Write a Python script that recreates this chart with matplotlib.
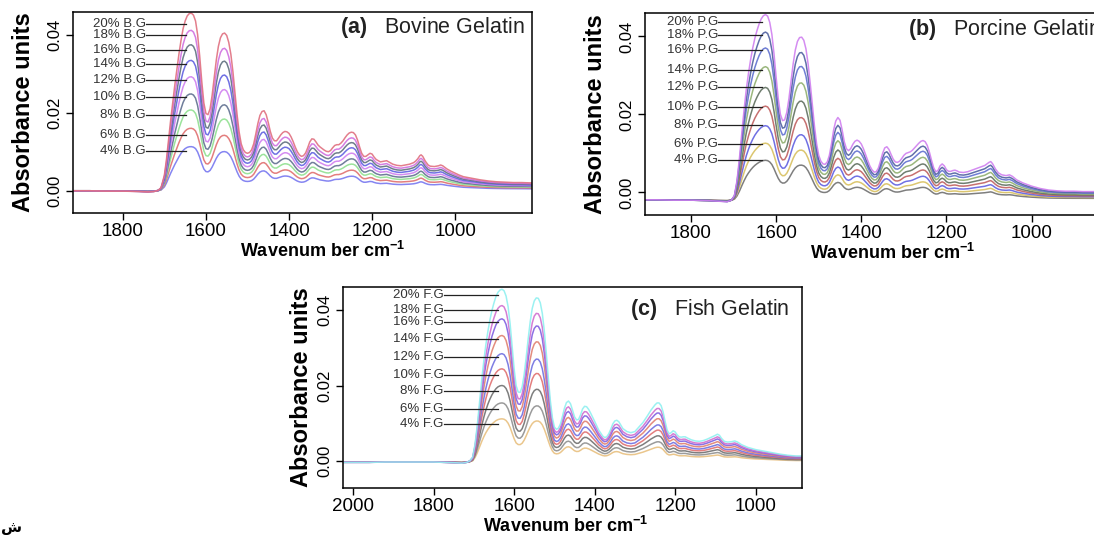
import numpy as np
import matplotlib
matplotlib.use('Agg')
import matplotlib.pyplot as plt

plt.rcParams['font.family'] = ['Liberation Sans', 'DejaVu Sans']
plt.rcParams['mathtext.fontset'] = 'custom'
plt.rcParams['mathtext.rm'] = 'Liberation Sans'
plt.rcParams['mathtext.bf'] = 'Liberation Sans:bold'

conc = ['4%', '6%', '8%', '10%', '12%', '14%', '16%', '18%', '20%']

# ---- (a) bovine gelatin: top (20%) spectrum
bg_wn = [1920, 1880, 1840, 1800, 1760, 1740, 1725, 1715, 1708, 1700, 1695, 1690, 1685, 1680,
         1675, 1670, 1665, 1660, 1655, 1650, 1645, 1640, 1635, 1630, 1625, 1620, 1615, 1610,
         1605, 1600, 1595, 1590, 1585, 1580, 1575, 1570, 1565, 1560, 1555, 1550, 1545, 1540,
         1535, 1530, 1525, 1520, 1515, 1510, 1505, 1500, 1495, 1490, 1485, 1480, 1475, 1470,
         1465, 1460, 1455, 1450, 1445, 1440, 1435, 1430, 1425, 1420, 1415, 1410, 1405, 1400,
         1395, 1390, 1385, 1380, 1375, 1370, 1365, 1360, 1355, 1350, 1345, 1340, 1335, 1330,
         1325, 1320, 1315, 1310, 1305, 1300, 1295, 1290, 1285, 1280, 1275, 1270, 1265, 1260,
         1255, 1250, 1245, 1240, 1235, 1230, 1225, 1220, 1215, 1210, 1205, 1200, 1195, 1190,
         1180, 1170, 1165, 1160, 1150, 1140, 1130, 1120, 1110, 1100, 1095, 1090, 1085, 1082,
         1078, 1072, 1065, 1060, 1050, 1040, 1035, 1030, 1020, 1010, 1000, 990, 980, 960,
         940, 920, 900, 880, 860, 840, 815]
bg_top = [0.0000, 0.0000, -0.0001, -0.0001, -0.0002, -0.0003, -0.0002, 0.0001, 0.0008, 0.0040,
          0.0080, 0.0130, 0.0180, 0.0225, 0.0270, 0.0310, 0.0350, 0.0385, 0.0415, 0.0435,
          0.0448, 0.0454, 0.0455, 0.0450, 0.0435, 0.0400, 0.0345, 0.0280, 0.0225, 0.0198,
          0.0195, 0.0210, 0.0245, 0.0290, 0.0335, 0.0370, 0.0392, 0.0402, 0.0404, 0.0398,
          0.0380, 0.0350, 0.0305, 0.0250, 0.0195, 0.0150, 0.0120, 0.0105, 0.0098, 0.0096,
          0.0098, 0.0105, 0.0120, 0.0145, 0.0172, 0.0193, 0.0203, 0.0205, 0.0195, 0.0175,
          0.0152, 0.0135, 0.0128, 0.0128, 0.0135, 0.0143, 0.0149, 0.0152, 0.0151, 0.0147,
          0.0138, 0.0126, 0.0112, 0.0100, 0.0092, 0.0088, 0.0090, 0.0097, 0.0110, 0.0125,
          0.0133, 0.0132, 0.0125, 0.0117, 0.0112, 0.0108, 0.0104, 0.0101, 0.0100, 0.0103,
          0.0110, 0.0116, 0.0118, 0.0118, 0.0122, 0.0128, 0.0136, 0.0143, 0.0148, 0.0150,
          0.0149, 0.0143, 0.0130, 0.0112, 0.0096, 0.0088, 0.0088, 0.0092, 0.0096, 0.0094,
          0.0086, 0.0080, 0.0074, 0.0076, 0.0077, 0.0074, 0.0068, 0.0065, 0.0064, 0.0066,
          0.0068, 0.0072, 0.0076, 0.0082, 0.0090, 0.0092, 0.0088, 0.0076, 0.0066, 0.0063,
          0.0062, 0.0064, 0.0066, 0.0064, 0.0056, 0.0050, 0.0045, 0.0040, 0.0036, 0.0032,
          0.0028, 0.0025, 0.0023, 0.0022, 0.0021, 0.0021, 0.0020]
bg_base = 0.0
bg_peak = [0.0113, 0.0160, 0.0207, 0.0248, 0.0292, 0.0334, 0.0374, 0.0411, 0.0455]
bg_label_y = [0.0102, 0.0143, 0.0194, 0.0241, 0.0283, 0.0326, 0.0360, 0.0398, 0.0428]
bg_colors = ['#7878f0', '#e07070', '#90e090', '#607090', '#d080f0', '#6060e0', '#607080',
             '#d070e0', '#e07080']

# ---- (b) porcine gelatin
pg_wn = [1908, 1880, 1840, 1800, 1760, 1730, 1715, 1705, 1698, 1692, 1686, 1680, 1675, 1670,
         1665, 1660, 1655, 1650, 1645, 1640, 1635, 1630, 1625, 1620, 1615, 1610, 1605, 1600,
         1595, 1590, 1585, 1580, 1575, 1570, 1565, 1560, 1555, 1550, 1545, 1540, 1535, 1530,
         1525, 1520, 1515, 1510, 1505, 1500, 1495, 1490, 1485, 1480, 1475, 1470, 1465, 1460,
         1455, 1450, 1445, 1440, 1435, 1430, 1425, 1420, 1415, 1410, 1405, 1400, 1395, 1390,
         1385, 1380, 1375, 1370, 1365, 1360, 1355, 1350, 1345, 1340, 1335, 1330, 1325, 1320,
         1315, 1310, 1305, 1300, 1295, 1290, 1285, 1280, 1275, 1270, 1265, 1260, 1255, 1250,
         1245, 1240, 1235, 1230, 1225, 1220, 1215, 1210, 1205, 1200, 1195, 1190, 1185, 1180,
         1175, 1170, 1160, 1150, 1140, 1130, 1120, 1110, 1105, 1100, 1096, 1092, 1085, 1078,
         1070, 1060, 1052, 1045, 1035, 1020, 1000, 980, 960, 940, 920, 900, 880, 860, 840, 825]
pg_top = [-0.0019, -0.0019, -0.0020, -0.0020, -0.0021, -0.0023, -0.0024, -0.0020, -0.0008,
          0.0030, 0.0090, 0.0160, 0.0215, 0.0265, 0.0305, 0.0340, 0.0370, 0.0395, 0.0415,
          0.0432, 0.0445, 0.0453, 0.0456, 0.0452, 0.0436, 0.0405, 0.0355, 0.0295, 0.0240,
          0.0200, 0.0184, 0.0186, 0.0205, 0.0240, 0.0285, 0.0330, 0.0365, 0.0387, 0.0397,
          0.0398, 0.0390, 0.0368, 0.0330, 0.0280, 0.0225, 0.0170, 0.0125, 0.0095, 0.0080,
          0.0073, 0.0072, 0.0078, 0.0095, 0.0125, 0.0160, 0.0183, 0.0192, 0.0185, 0.0160,
          0.0130, 0.0112, 0.0107, 0.0112, 0.0123, 0.0131, 0.0134, 0.0131, 0.0124, 0.0112,
          0.0097, 0.0082, 0.0068, 0.0058, 0.0052, 0.0053, 0.0062, 0.0080, 0.0100, 0.0114,
          0.0117, 0.0110, 0.0097, 0.0085, 0.0078, 0.0077, 0.0080, 0.0087, 0.0095, 0.0100,
          0.0102, 0.0104, 0.0108, 0.0114, 0.0120, 0.0126, 0.0131, 0.0133, 0.0130, 0.0120,
          0.0103, 0.0082, 0.0063, 0.0053, 0.0056, 0.0068, 0.0073, 0.0068, 0.0058, 0.0054,
          0.0054, 0.0056, 0.0057, 0.0055, 0.0052, 0.0051, 0.0053, 0.0057, 0.0061, 0.0065,
          0.0069, 0.0073, 0.0077, 0.0079, 0.0074, 0.0060, 0.0050, 0.0045, 0.0043, 0.0045,
          0.0041, 0.0032, 0.0024, 0.0016, 0.0010, 0.0006, 0.0004, 0.0003, 0.0003, 0.0002,
          0.0002, 0.0002, 0.0002]
pg_base = -0.0020
pg_peak = [0.0098, 0.0140, 0.0183, 0.0231, 0.0277, 0.0328, 0.0374, 0.0413, 0.0456]
pg_label_y = [0.0083, 0.0123, 0.0174, 0.0219, 0.0271, 0.0315, 0.0366, 0.0404, 0.0438]
pg_colors = ['#707070', '#d8c060', '#6060e0', '#c06060', '#607060', '#90b070', '#6070d0',
             '#5060a0', '#d080f0']

# ---- (c) fish gelatin
fg_wn = [2025, 2000, 1960, 1920, 1880, 1840, 1800, 1770, 1745, 1730, 1718, 1710, 1703, 1697,
         1691, 1685, 1680, 1675, 1670, 1665, 1660, 1655, 1650, 1645, 1640, 1635, 1630, 1625,
         1620, 1615, 1610, 1605, 1600, 1595, 1590, 1585, 1580, 1575, 1570, 1565, 1560, 1555,
         1550, 1545, 1540, 1535, 1530, 1525, 1520, 1515, 1510, 1505, 1500, 1495, 1490, 1485,
         1480, 1475, 1470, 1465, 1460, 1455, 1450, 1445, 1440, 1435, 1430, 1425, 1420, 1415,
         1410, 1400, 1390, 1380, 1375, 1370, 1365, 1360, 1355, 1350, 1345, 1340, 1335, 1330,
         1320, 1310, 1300, 1290, 1280, 1270, 1260, 1250, 1245, 1240, 1235, 1230, 1225, 1220,
         1215, 1210, 1205, 1200, 1195, 1190, 1185, 1180, 1175, 1170, 1160, 1150, 1140, 1130,
         1120, 1110, 1100, 1095, 1090, 1085, 1078, 1070, 1060, 1052, 1045, 1035, 1020, 1000,
         980, 960, 940, 920, 900, 885]
fg_top = [-0.0004, -0.0004, -0.0004, -0.0003, -0.0003, -0.0003, -0.0003, -0.0004, -0.0005,
          -0.0006, -0.0004, 0.0000, 0.0010, 0.0045, 0.0100, 0.0165, 0.0220, 0.0268, 0.0310,
          0.0345, 0.0375, 0.0400, 0.0420, 0.0437, 0.0448, 0.0454, 0.0456, 0.0452, 0.0438,
          0.0410, 0.0365, 0.0305, 0.0245, 0.0200, 0.0183, 0.0182, 0.0197, 0.0230, 0.0275,
          0.0325, 0.0370, 0.0405, 0.0425, 0.0433, 0.0432, 0.0420, 0.0392, 0.0345, 0.0285,
          0.0220, 0.0160, 0.0115, 0.0090, 0.0084, 0.0087, 0.0098, 0.0118, 0.0140, 0.0155,
          0.0159, 0.0152, 0.0135, 0.0117, 0.0109, 0.0110, 0.0122, 0.0138, 0.0145, 0.0144,
          0.0137, 0.0127, 0.0105, 0.0082, 0.0066, 0.0062, 0.0064, 0.0072, 0.0084, 0.0098,
          0.0106, 0.0108, 0.0104, 0.0095, 0.0086, 0.0078, 0.0075, 0.0078, 0.0090, 0.0102,
          0.0118, 0.0135, 0.0149, 0.0154, 0.0154, 0.0147, 0.0130, 0.0105, 0.0082, 0.0072,
          0.0075, 0.0080, 0.0077, 0.0069, 0.0064, 0.0063, 0.0064, 0.0064, 0.0061, 0.0056,
          0.0053, 0.0052, 0.0054, 0.0058, 0.0063, 0.0068, 0.0071, 0.0068, 0.0060, 0.0052,
          0.0050, 0.0051, 0.0053, 0.0050, 0.0043, 0.0036, 0.0030, 0.0026, 0.0022, 0.0018,
          0.0015, 0.0013, 0.0013]
fg_base = -0.0003
fg_peak = [0.0114, 0.0156, 0.0202, 0.0246, 0.0286, 0.0334, 0.0378, 0.0413, 0.0456]
fg_label_y = [0.0097, 0.0139, 0.0185, 0.0229, 0.0277, 0.0324, 0.0369, 0.0402, 0.0440]
fg_colors = ['#e8c080', '#909090', '#707070', '#e07070', '#7070e0', '#e08070', '#8060e0',
             '#d070d0', '#90f0f0']

W, H = 1094, 535
fig = plt.figure(figsize=(W / 100, H / 100), dpi=100)


def add_panel(box, xlim, ylim, xticks, wn, top, base, peaks, label_y, colors, code,
              label_x, line_end, tag, name, title_xy, ylab_x, xlab_xy):
    x0, y0, x1, y1 = box
    ax = fig.add_axes([x0 / W, 1 - y1 / H, (x1 - x0) / W, (y1 - y0) / H])
    wn = np.array(wn)
    top = np.array(top)
    for h, c in zip(peaks, colors):
        ax.plot(wn, base + (top - base) * h / peaks[-1], color=c, lw=1.1, alpha=0.9)
    for cn, ly in zip(conc, label_y):
        ax.plot([label_x, line_end], [ly, ly], color='#222222', lw=0.9)
        ax.text(label_x, ly, f'{cn} {code}', ha='right', va='center', fontsize=9.5,
                color='#333333')
    ax.set_xlim(*xlim)
    ax.set_ylim(*ylim)
    ax.set_xticks(xticks)
    ax.set_xticklabels([str(t) for t in xticks], fontsize=13.5)
    ax.set_yticks([0.0, 0.02, 0.04])
    ax.set_yticklabels(['0.00', '0.02', '0.04'], fontsize=12, rotation=90, va='center')
    ax.tick_params(axis='both', direction='out', length=5, width=1, pad=2.5)
    for s in ax.spines.values():
        s.set_linewidth(1.1)
    ax.text(title_xy[0], title_xy[1], rf'$\bf{{({tag})}}$   {name}', transform=ax.transAxes,
            fontsize=15.5, ha='left', va='center', color='#222222')
    fig.text(ylab_x / W, 1 - ((y0 + y1) / 2) / H, 'Absorbance units', rotation=90,
             ha='center', va='center', fontsize=17, fontweight='bold')
    fig.text(xlab_xy[0] / W, 1 - xlab_xy[1] / H, r'Wavenum ber cm$^{\bf{-1}}$',
             ha='center', va='center', fontsize=13, fontweight='bold')
    return ax


add_panel((73, 12, 532, 213), (1920, 815), (-0.0057, 0.0458), [1800, 1600, 1400, 1200, 1000],
          bg_wn, bg_top, bg_base, bg_peak, bg_label_y, bg_colors, 'B.G', 1745, 1648,
          'a', 'Bovine Gelatin', (0.582, 0.925), 24, (323, 251))

add_panel((645, 13, 1104, 215), (1908, 830), (-0.0058, 0.0460), [1800, 1600, 1400, 1200, 1000],
          pg_wn, pg_top, pg_base, pg_peak, pg_label_y, pg_colors, 'P.G', 1736, 1633,
          'b', 'Porcine Gelatin', (0.573, 0.92), 595, (893, 253))

add_panel((343, 287, 802, 488), (2025, 885), (-0.0072, 0.0462), [2000, 1800, 1600, 1400, 1200, 1000],
          fg_wn, fg_top, fg_base, fg_peak, fg_label_y, fg_colors, 'F.G', 1775, 1640,
          'c', 'Fish Gelatin', (0.625, 0.886), 302, (566, 526))

fig.text(0.001, 0.0, 'ش', fontsize=11, fontweight='bold', ha='left', va='bottom')

fig.savefig('out.png', dpi=100)
